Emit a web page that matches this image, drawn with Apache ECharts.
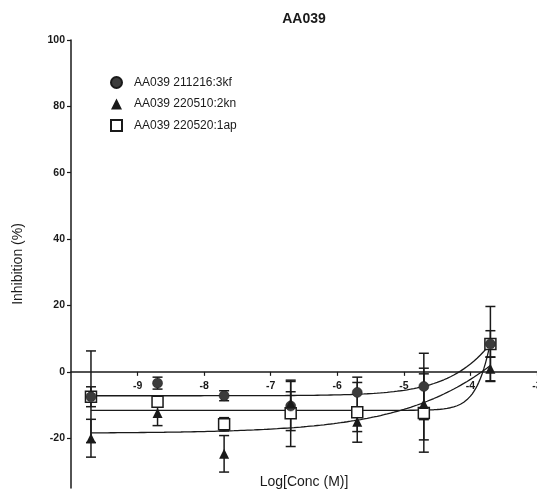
<!DOCTYPE html>
<html>
<head>
<meta charset="utf-8">
<script src="https://cdn.jsdelivr.net/npm/echarts@6/dist/echarts.min.js"></script>
<style>
  html, body { margin: 0; padding: 0; background: #fff; }
  #chart { width: 537px; height: 493px; }
</style>
</head>
<body>
<div id="chart"></div>
<script>
// Dose-response data: log concentration vs. mean inhibition (%) with SD
const logConc = [-9.7, -8.7, -7.7, -6.7, -5.7, -4.7, -3.7];

const circleName = 'AA039 211216:3kf';
const circleMean = [-7.5, -3.4, -7.2, -10.3, -6.2, -4.4, 8.4];
const circleErr  = [13.8, 1.8, 1.5, 7.4, 4.6, 10.0, 11.3];

const triName = 'AA039 220510:2kn';
const triMean = [-20.0, -12.4, -24.7, -9.5, -15.0, -9.7, 0.9];
const triErr  = [5.7, 3.8, 5.5, 3.5, 3.0, 10.8, 3.6];

const squareName = 'AA039 220520:1ap';
const squareMean = [-7.5, -9.0, -15.8, -12.5, -12.2, -12.4, 8.4];
const squareErr  = [3.0, 1.5, 2.0, 10.0, 9.0, 11.8, 4.0];

// Four-parameter logistic fits: [bottom, top, logEC50, hill slope]
const circleFit = [-7.2, 100, -2.74, 0.8];
const triFit    = [-18.5, 100, -1.95, 0.39];
const squareFit = [-11.6, 100, -3.44, 2.5];

const yTicks = [-20, 0, 20, 40, 60, 80, 100];
const xTicks = [-9, -8, -7, -6, -5, -4, -3];

const ink = '#1a1a1a';

function fitCurve(p) {
  const [bottom, top, ec50, hill] = p;
  const pts = [];
  const x0 = logConc[0], x1 = logConc[logConc.length - 1];
  const n = 240;
  for (let i = 0; i <= n; i++) {
    const x = x0 + (x1 - x0) * i / n;
    pts.push([x, bottom + (top - bottom) / (1 + Math.pow(10, (ec50 - x) * hill))]);
  }
  return pts;
}

function points(mean) { return logConc.map((x, i) => [x, mean[i]]); }
function bars(mean, err) { return logConc.map((x, i) => [x, mean[i] - err[i], mean[i] + err[i]]); }

function errorSeries(mean, err) {
  return {
    type: 'custom',
    data: bars(mean, err),
    z: 2,
    silent: true,
    legendHoverLink: false,
    renderItem: function (params, api) {
      const x = api.value(0);
      const lo = api.coord([x, api.value(1)]);
      const hi = api.coord([x, api.value(2)]);
      const cap = 5;
      const st = { stroke: ink, lineWidth: 1.5 };
      return {
        type: 'group',
        children: [
          { type: 'line', shape: { x1: lo[0], y1: lo[1], x2: hi[0], y2: hi[1] }, style: st },
          { type: 'line', shape: { x1: lo[0] - cap, y1: lo[1], x2: lo[0] + cap, y2: lo[1] }, style: st },
          { type: 'line', shape: { x1: hi[0] - cap, y1: hi[1], x2: hi[0] + cap, y2: hi[1] }, style: st }
        ]
      };
    }
  };
}

function curveSeries(p) {
  return {
    type: 'line',
    data: fitCurve(p),
    showSymbol: false,
    symbol: 'none',
    z: 3,
    silent: true,
    lineStyle: { color: ink, width: 1.3 }
  };
}

const chart = echarts.init(document.getElementById('chart'), null, { renderer: 'canvas' });

chart.setOption({
  animation: false,
  backgroundColor: '#fff',
  textStyle: { fontFamily: 'Liberation Sans, Arial, sans-serif' },
  title: {
    text: 'AA039',
    left: 299,
    textAlign: 'center',
    top: 7,
    textStyle: { fontSize: 14, fontWeight: 'bold', color: ink }
  },
  legend: {
    orient: 'vertical',
    left: 110,
    top: 76,
    padding: 0,
    itemGap: 9,
    itemWidth: 11,
    itemHeight: 11,
    textStyle: { fontSize: 12, color: ink, padding: [0, 0, 0, 7] },
    data: [
      { name: circleName, icon: 'circle' },
      { name: triName, icon: 'triangle' },
      { name: squareName, icon: 'rect' }
    ]
  },
  grid: { left: 71, right: 0, top: 40, bottom: 5, containLabel: false, outerBoundsMode: 'none' },
  xAxis: {
    type: 'value',
    min: -10,
    max: -3,
    name: 'Log[Conc (M)]',
    nameLocation: 'middle',
    nameGap: -13,
    nameTextStyle: { fontSize: 14, color: ink },
    axisLine: { onZero: true, lineStyle: { color: ink, width: 1.5 } },
    axisTick: { show: true, length: 4, lineStyle: { color: ink, width: 1.2 }, customValues: xTicks },
    axisLabel: { customValues: xTicks, fontSize: 10.5, fontWeight: 'bold', color: ink, margin: -107 },
    splitLine: { show: false }
  },
  yAxis: {
    type: 'value',
    min: -35,
    max: 100,
    name: 'Inhibition (%)',
    nameLocation: 'middle',
    nameGap: 46,
    nameTextStyle: { fontSize: 14, color: ink },
    axisLine: { onZero: false, lineStyle: { color: ink, width: 1.5 } },
    axisTick: { show: true, length: 4, lineStyle: { color: ink, width: 1.2 }, customValues: yTicks },
    axisLabel: { customValues: yTicks, fontSize: 10.5, fontWeight: 'bold', color: ink, margin: 6 },
    splitLine: { show: false }
  },
  series: [
    curveSeries(circleFit),
    curveSeries(triFit),
    curveSeries(squareFit),
    errorSeries(circleMean, circleErr),
    errorSeries(triMean, triErr),
    errorSeries(squareMean, squareErr),
    {
      name: circleName,
      type: 'scatter',
      data: points(circleMean),
      symbol: 'circle',
      symbolSize: 10,
      z: 5,
      itemStyle: { color: '#3c3c3c', borderColor: ink, borderWidth: 0.5, opacity: 1 }
    },
    {
      name: triName,
      type: 'scatter',
      data: points(triMean),
      symbol: 'triangle',
      symbolSize: 10,
      z: 5,
      itemStyle: { color: ink, opacity: 1 }
    },
    {
      name: squareName,
      type: 'scatter',
      data: points(squareMean),
      symbol: 'rect',
      symbolSize: 11,
      z: 4,
      itemStyle: { color: '#ffffff', borderColor: ink, borderWidth: 1.5, opacity: 1 }
    }
  ]
});
</script>
</body>
</html>
